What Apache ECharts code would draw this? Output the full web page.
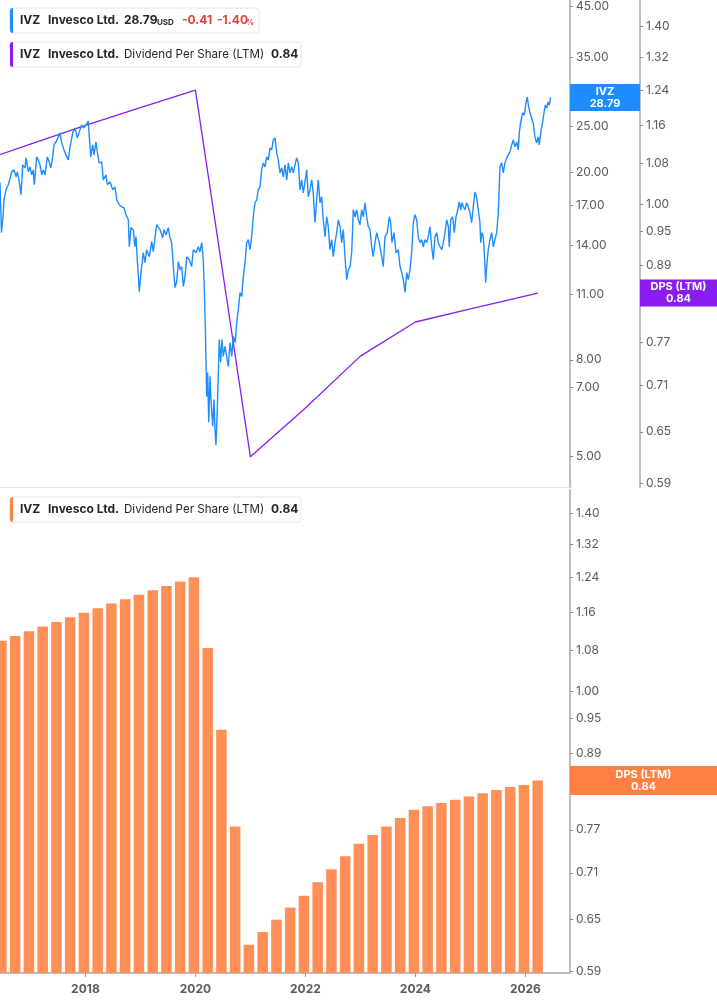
<!DOCTYPE html>
<html>
<head>
<meta charset="utf-8">
<title>IVZ - Dividend Per Share (LTM)</title>
<script src="https://cdn.jsdelivr.net/npm/echarts@6/dist/echarts.min.js"></script>
<style>
  html, body { margin: 0; padding: 0; background: #fff; }
  #main { width: 717px; height: 1005px; }
</style>
</head>
<body>
<div id="main"></div>
<script>
// price history (decimal year, USD)
var priceDates = [
  2016.447,2016.474,2016.502,2016.520,2016.556,2016.598,2016.660,2016.702,2016.738,2016.762,
  2016.798,2016.829,2016.860,2016.902,2016.920,2016.962,2016.992,2017.023,2017.052,2017.071,
  2017.114,2017.143,2017.174,2017.205,2017.234,2017.265,2017.307,2017.343,2017.369,2017.398,
  2017.429,2017.465,2017.507,2017.538,2017.569,2017.611,2017.660,2017.689,2017.720,2017.769,
  2017.811,2017.852,2017.889,2017.932,2017.962,2018.011,2018.052,2018.071,2018.096,2018.132,
  2018.156,2018.192,2018.216,2018.252,2018.296,2018.325,2018.374,2018.398,2018.447,2018.496,
  2018.538,2018.569,2018.616,2018.660,2018.702,2018.738,2018.780,2018.798,2018.829,2018.871,
  2018.896,2018.920,2018.943,2018.980,2019.011,2019.052,2019.083,2019.114,2019.162,2019.205,
  2019.234,2019.265,2019.296,2019.325,2019.356,2019.405,2019.429,2019.465,2019.507,2019.538,
  2019.569,2019.598,2019.629,2019.660,2019.689,2019.720,2019.751,2019.780,2019.811,2019.842,
  2019.889,2019.932,2019.962,2020.011,2020.052,2020.083,2020.114,2020.143,2020.162,2020.180,
  2020.205,2020.223,2020.242,2020.265,2020.283,2020.314,2020.338,2020.356,2020.374,2020.398,
  2020.434,2020.460,2020.483,2020.507,2020.538,2020.569,2020.598,2020.629,2020.660,2020.689,
  2020.725,2020.751,2020.780,2020.811,2020.842,2020.871,2020.902,2020.932,2020.962,2020.992,
  2021.023,2021.052,2021.083,2021.114,2021.143,2021.174,2021.205,2021.234,2021.265,2021.296,
  2021.325,2021.356,2021.387,2021.416,2021.447,2021.478,2021.507,2021.538,2021.569,2021.598,
  2021.629,2021.660,2021.689,2021.720,2021.751,2021.780,2021.811,2021.842,2021.871,2021.902,
  2021.932,2021.962,2021.992,2022.023,2022.052,2022.083,2022.114,2022.143,2022.174,2022.205,
  2022.234,2022.265,2022.296,2022.325,2022.356,2022.387,2022.416,2022.447,2022.478,2022.507,
  2022.538,2022.569,2022.598,2022.629,2022.660,2022.689,2022.720,2022.751,2022.780,2022.811,
  2022.842,2022.871,2022.902,2022.932,2022.962,2022.992,2023.023,2023.052,2023.083,2023.114,
  2023.143,2023.174,2023.205,2023.234,2023.265,2023.296,2023.343,2023.387,2023.416,2023.447,
  2023.489,2023.525,2023.551,2023.574,2023.611,2023.647,2023.689,2023.720,2023.751,2023.780,
  2023.811,2023.842,2023.871,2023.902,2023.932,2023.962,2023.992,2024.023,2024.052,2024.083,
  2024.114,2024.143,2024.174,2024.205,2024.234,2024.265,2024.296,2024.325,2024.356,2024.387,
  2024.416,2024.447,2024.478,2024.507,2024.538,2024.569,2024.598,2024.616,2024.642,2024.678,
  2024.707,2024.738,2024.762,2024.798,2024.823,2024.847,2024.871,2024.902,2024.932,2024.962,
  2024.992,2025.023,2025.052,2025.083,2025.114,2025.143,2025.174,2025.187,2025.211,2025.234,
  2025.260,2025.278,2025.296,2025.325,2025.356,2025.387,2025.416,2025.447,2025.478,2025.507,
  2025.538,2025.569,2025.598,2025.629,2025.660,2025.689,2025.720,2025.751,2025.780,2025.811,
  2025.842,2025.871,2025.889,2025.914,2025.951,2025.980,2026.011,2026.034,2026.060,2026.083,
  2026.114,2026.143,2026.174,2026.205,2026.234,2026.252,2026.278,2026.314,2026.338,2026.362,
  2026.387,2026.411,2026.434,2026.460
];
var priceValues = [
  18.98,14.88,16.08,17.47,18.34,18.80,20.02,20.22,19.54,20.02,
  19.07,17.90,20.72,20.42,21.44,20.02,20.52,19.73,20.22,18.80,
  21.54,21.23,20.72,19.73,20.22,19.73,21.54,21.02,20.42,21.23,
  22.84,23.17,23.75,24.22,23.06,22.29,21.54,21.23,22.62,24.22,
  24.81,23.63,24.34,25.17,24.81,25.17,25.66,25.42,21.54,22.84,
  21.75,23.17,22.07,20.92,21.02,19.26,19.73,18.80,19.07,18.34,
  18.61,17.47,17.05,16.88,16.80,16.24,15.85,13.89,15.25,15.10,
  13.89,14.59,13.04,11.16,12.24,13.49,12.85,13.69,13.23,14.24,
  13.56,14.52,15.47,15.62,15.10,14.52,15.10,14.73,15.25,14.52,
  14.17,12.61,11.38,11.72,12.91,12.42,12.61,11.44,12.00,13.23,
  13.04,12.61,13.69,13.49,13.89,13.56,14.17,13.04,11.27,9.41,
  6.69,7.52,5.90,7.38,6.59,5.78,6.59,5.70,5.27,6.28,
  8.83,7.90,8.83,8.13,8.54,8.13,7.74,8.70,8.13,8.96,
  8.70,9.60,10.22,11.11,10.89,12.00,12.85,14.17,14.38,13.69,
  14.59,16.08,17.22,17.47,18.34,18.61,20.22,20.92,20.52,21.54,
  21.23,22.51,22.29,23.40,23.63,21.96,21.23,19.92,20.42,19.54,
  20.72,19.26,20.92,19.92,20.52,19.92,20.72,21.44,20.92,18.34,
  19.26,18.07,19.07,20.22,17.73,18.34,19.26,18.07,15.62,17.47,
  19.26,17.22,17.73,15.85,14.59,16.08,15.32,13.69,14.38,13.23,
  14.17,14.88,15.85,15.32,14.17,15.10,13.23,11.83,12.42,12.61,
  13.49,16.64,16.08,16.64,15.85,15.47,16.64,16.08,17.22,16.08,
  15.32,15.10,13.89,13.23,14.17,14.88,14.17,13.23,12.61,14.59,
  14.88,16.08,15.62,14.17,14.88,13.49,13.69,12.61,12.24,11.83,
  11.11,12.24,11.83,12.42,13.49,15.62,16.24,15.85,14.59,14.17,
  14.38,13.89,14.38,14.17,14.59,15.32,13.89,13.04,14.59,14.88,
  14.17,13.89,13.69,14.17,14.88,15.85,15.32,13.89,15.85,16.08,
  14.88,16.08,16.48,17.30,16.64,17.22,16.88,16.64,17.22,16.88,
  16.40,15.62,16.88,18.16,17.64,16.64,15.62,14.17,14.88,14.59,
  13.04,11.66,12.61,13.69,14.38,14.88,13.89,14.38,14.88,16.40,
  20.52,20.92,19.92,20.92,21.44,21.75,22.07,22.84,23.40,22.62,
  23.17,22.29,24.22,25.54,26.69,26.43,28.03,28.86,27.48,26.69,
  26.82,25.42,23.75,23.06,23.75,22.84,24.22,25.54,26.69,27.75,
  27.34,28.16,27.75,28.79
];

// DPS (LTM) yearly line drawn in the price panel
var dpsLineDates = [2016.0, 2017.0, 2018.0, 2019.0, 2020.0, 2021.0, 2022.0, 2023.0, 2024.0, 2025.0, 2026.227];
var dpsLineValues = [1.08, 1.12, 1.16, 1.20, 1.24, 0.62, 0.68, 0.75, 0.80, 0.82, 0.845];

// DPS (LTM) quarterly bars
var barDates = [
  2016.473, 2016.723, 2016.973, 2017.223, 2017.473, 2017.723, 2017.973, 2018.223,
  2018.473, 2018.723, 2018.973, 2019.223, 2019.473, 2019.723, 2019.973, 2020.223,
  2020.473, 2020.723, 2020.973, 2021.223, 2021.473, 2021.723, 2021.973, 2022.223,
  2022.473, 2022.723, 2022.973, 2023.223, 2023.473, 2023.723, 2023.973, 2024.223,
  2024.473, 2024.723, 2024.973, 2025.223, 2025.473, 2025.723, 2025.973, 2026.223
];
var barValues = [
  1.10, 1.11, 1.12, 1.13, 1.14, 1.15, 1.16, 1.17,
  1.18, 1.19, 1.20, 1.21, 1.22, 1.23, 1.24, 1.085,
  0.93, 0.775, 0.62, 0.635, 0.65, 0.665, 0.68, 0.6975,
  0.715, 0.7325, 0.75, 0.7625, 0.775, 0.7875, 0.80, 0.805,
  0.81, 0.815, 0.82, 0.825, 0.83, 0.835, 0.838, 0.845
];

// tick labels
var yearTicks = [2018, 2020, 2022, 2024, 2026];
var priceTicks = [5, 7, 8, 11, 14, 17, 20, 25, 35, 45];
var dpsTicks = [0.59, 0.65, 0.71, 0.77, 0.83, 0.89, 0.95, 1.00, 1.08, 1.16, 1.24, 1.32, 1.40];

var lastPrice = 28.79;
var lastDps = 0.84;

var FONT = "Inter, Roboto, 'Noto Sans', sans-serif";
var BLUE = "#1E8CFF";
var PURPLE = "#8A1DF2";
var ORANGE = "#FF8F57";
var ORANGE_TAG = "#FF8042";
var X_MIN = 2016.447, X_MAX = 2026.811;
var BAR_MIN = 0.5878;
var BAR_HALF = 0.0955;

var myChart = echarts.init(document.getElementById("main"), null, { renderer: "canvas" });

function yAxisBase(grid, min, max, ticks, offset) {
  return {
    type: "log",
    gridIndex: grid,
    position: "right",
    offset: offset || 0,
    min: min,
    max: max,
    axisLine: { show: true, onZero: false, lineStyle: { color: "#bdbdbd", width: 2 } },
    axisTick: { show: true, customValues: ticks, length: 3, lineStyle: { color: "#888" } },
    axisLabel: {
      customValues: ticks,
      formatter: function(v) { return Number(v).toFixed(2); },
      color: "#5a5a5a",
      fontSize: 12,
      fontFamily: FONT,
      margin: 6
    },
    splitLine: { show: false }
  };
}

myChart.setOption({
  animation: false,
  grid: [
    { left: 0, top: 0, width: 570, height: 487 },
    { left: 0, top: 490, width: 570, height: 483 }
  ],
  xAxis: [
    {
      type: "value", gridIndex: 0, min: X_MIN, max: X_MAX,
      axisLine: { show: true, onZero: false, lineStyle: { color: "#e2e2e2", width: 1 } },
      axisTick: { show: false }, axisLabel: { show: false }, splitLine: { show: false }
    },
    {
      type: "value", gridIndex: 1, min: X_MIN, max: X_MAX,
      axisLine: { show: true, onZero: false, lineStyle: { color: "#bdbdbd", width: 2 } },
      axisTick: { show: true, customValues: yearTicks, length: 4, lineStyle: { color: "#999" } },
      axisLabel: {
        customValues: yearTicks,
        formatter: function(v) { return String(v); },
        color: "#5a5a5a", fontWeight: "bold", fontSize: 12, fontFamily: FONT, margin: 10
      },
      splitLine: { show: false }
    }
  ],
  yAxis: [
    yAxisBase(0, 4.298, 46.34, priceTicks, 0),
    yAxisBase(0, 0.5856, 1.4706, dpsTicks, 70),
    yAxisBase(1, BAR_MIN, 1.4621, dpsTicks, 0)
  ],
  series: [
    {
      type: "line",
      xAxisIndex: 0,
      yAxisIndex: 1,
      data: dpsLineDates.map(function(d, i) { return [d, dpsLineValues[i]]; }),
      showSymbol: false,
      lineStyle: { color: PURPLE, width: 1.3 },
      z: 2
    },
    {
      type: "line",
      xAxisIndex: 0,
      yAxisIndex: 0,
      data: priceDates.map(function(d, i) { return [d, priceValues[i]]; }),
      showSymbol: false,
      lineStyle: { color: BLUE, width: 1.4 },
      z: 3
    },
    {
      type: "custom",
      xAxisIndex: 1,
      yAxisIndex: 2,
      data: barDates.map(function(d, i) { return [d, barValues[i]]; }),
      encode: { x: 0, y: 1 },
      renderItem: function(params, api) {
        var x = api.value(0);
        var v = api.value(1);
        var top = api.coord([x, v]);
        var base = api.coord([x, BAR_MIN]);
        var left = api.coord([x - BAR_HALF, v])[0];
        var right = api.coord([x + BAR_HALF, v])[0];
        var cs = params.coordSys;
        var rect = echarts.graphic.clipRectByRect(
          { x: left, y: top[1], width: right - left, height: base[1] - top[1] },
          { x: cs.x, y: cs.y, width: cs.width, height: cs.height }
        );
        return rect && { type: "rect", shape: rect, style: { fill: ORANGE } };
      }
    }
  ]
});

/* 图例和轴上的标签 */
function legendBox(y, w, color, parts) {
  var items = [
    { type: "rect", shape: { x: 10, y: y, width: w, height: 25, r: 3 },
      style: { fill: "#fff", stroke: "#e6e6e6", lineWidth: 1 }, z: 100 },
    { type: "rect", shape: { x: 10, y: y, width: 3, height: 25, r: [3, 0, 0, 3] },
      style: { fill: color }, z: 101 }
  ];
  parts.forEach(function(p) {
    items.push({
      type: "text", x: p.x, y: y + 12.5 + (p.dy || 0), z: 102,
      style: {
        text: p.t, fill: p.c || "#262626",
        font: (p.w || "bold") + " " + (p.s || 12) + "px " + FONT,
        verticalAlign: "middle"
      }
    });
  });
  return items;
}

function axisTag(x, yc, w, h, color, l1, l2) {
  return [
    { type: "rect", shape: { x: x, y: yc - h / 2, width: w, height: h }, style: { fill: color }, z: 110 },
    { type: "text", x: x + w / 2, y: yc, z: 111,
      style: { text: l1 + "\n" + l2, fill: "#fff", font: "bold 11px " + FONT,
               align: "center", verticalAlign: "middle", lineHeight: 12 } }
  ];
}

var yPrice = myChart.convertToPixel({ yAxisIndex: 0 }, lastPrice);
var yDpsTop = myChart.convertToPixel({ yAxisIndex: 1 }, dpsLineValues[dpsLineValues.length - 1]);
var yDpsBottom = myChart.convertToPixel({ yAxisIndex: 2 }, barValues[barValues.length - 1]);

var RED = "#E0443A";
var dpsParts = [
  { x: 20, t: "IVZ" }, { x: 48, t: "Invesco Ltd." },
  { x: 124, t: "Dividend Per Share (LTM)", w: "normal", s: 11.6 }, { x: 271, t: lastDps.toFixed(2) }
];
var graphics = []
  .concat(legendBox(8, 249, BLUE, [
    { x: 20, t: "IVZ" }, { x: 48, t: "Invesco Ltd." }, { x: 124, t: lastPrice.toFixed(2) },
    { x: 157, t: "USD", s: 8, dy: 2 }, { x: 182, t: "-0.41", c: RED }, { x: 217, t: "-1.40", c: RED },
    { x: 246, t: "%", s: 8, dy: 2, c: RED }
  ]))
  .concat(legendBox(42, 291, PURPLE, dpsParts))
  .concat(legendBox(497, 291, ORANGE_TAG, dpsParts))
  .concat(axisTag(570, yPrice, 70, 27, BLUE, "IVZ", lastPrice.toFixed(2)))
  .concat(axisTag(640, yDpsTop, 77, 27, PURPLE, "DPS (LTM)", lastDps.toFixed(2)))
  .concat(axisTag(570, yDpsBottom, 147, 29, ORANGE_TAG, "DPS (LTM)", lastDps.toFixed(2)));

myChart.setOption({ graphic: graphics });
</script>
</body>
</html>
